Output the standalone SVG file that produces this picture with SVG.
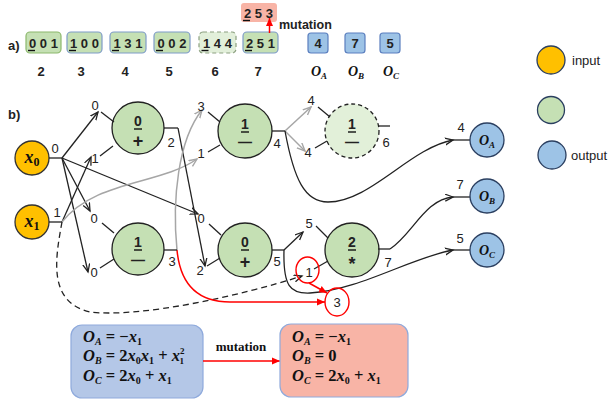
<svg xmlns="http://www.w3.org/2000/svg" width="611" height="404" viewBox="0 0 611 404">
<style>
.lbl{font-family:"Liberation Sans",Arial,sans-serif;font-size:13px;fill:#222;text-anchor:middle}
.b{font-weight:bold}
.dg{font-size:14px}
.op{font-size:18px}
.ds{font-size:14px}
.nd{fill:#c5e0b4;stroke:#222;stroke-width:1.3}
.st{stroke:#222;stroke-width:1.3;fill:none}
.c{fill:none;stroke:#222;stroke-width:1.3}
.g{fill:none;stroke:#a6a6a6;stroke-width:1.5}
.r{fill:none;stroke:#ff0000;stroke-width:1.5}
.m{font-family:"Liberation Serif","DejaVu Serif",serif;font-weight:bold;fill:#111}
.e{font-family:"Liberation Serif","DejaVu Serif",serif;font-weight:bold;fill:#111;font-size:16.5px}
.i{font-style:italic}
.bx{fill:#c5e0b4;stroke:#7f9cc8;stroke-width:1.2}
.ob{fill:#9dc3e6;stroke:#5b7fbf;stroke-width:1.2}
.on{fill:#9dc3e6;stroke:#2b3f60;stroke-width:1.3}
.ul{stroke:#111;stroke-width:1.4}
</style>
<defs>
<marker id="ak" markerWidth="10" markerHeight="10" refX="8" refY="4" orient="auto" markerUnits="userSpaceOnUse"><path d="M0,0.5 L8,4 L0,7.5" fill="none" stroke="#222" stroke-width="1.3"/></marker>
<marker id="ag" markerWidth="10" markerHeight="10" refX="8" refY="4" orient="auto" markerUnits="userSpaceOnUse"><path d="M0,0.5 L8,4 L0,7.5" fill="none" stroke="#a6a6a6" stroke-width="1.4"/></marker>
<marker id="ar" markerWidth="10" markerHeight="10" refX="8" refY="4" orient="auto" markerUnits="userSpaceOnUse"><path d="M0,0.5 L8,4 L0,7.5 z" fill="#ff0000"/></marker>
</defs>
<rect width="611" height="404" fill="#fff"/>

<!-- part a -->
<g id="part-a">
<text x="8" y="50" class="lbl b" style="text-anchor:start">a)</text>
<g id="gene2"><rect x="26" y="32" width="35" height="21" rx="4" class="bx" style="stroke:#8cb86c"/><text x="43.5" y="47.5" class="lbl b">0 0 1</text><line x1="28" y1="50.5" x2="35" y2="50.5" class="ul"/><text x="41" y="76" class="lbl b">2</text></g>
<g id="gene3"><rect x="67" y="32" width="35" height="21" rx="4" class="bx"/><text x="84.5" y="47.5" class="lbl b">1 0 0</text><line x1="69" y1="50.5" x2="76" y2="50.5" class="ul"/><text x="81" y="76" class="lbl b">3</text></g>
<g id="gene4"><rect x="110" y="32" width="36" height="21" rx="4" class="bx"/><text x="128" y="47.5" class="lbl b">1 3 1</text><line x1="112" y1="50.5" x2="119" y2="50.5" class="ul"/><text x="125" y="76" class="lbl b">4</text></g>
<g id="gene5"><rect x="154" y="32" width="36" height="21" rx="4" class="bx"/><text x="172" y="47.5" class="lbl b">0 0 2</text><line x1="156" y1="50.5" x2="163" y2="50.5" class="ul"/><text x="169" y="76" class="lbl b">5</text></g>
<g id="gene6"><rect x="199" y="32" width="37" height="21" rx="4" style="fill:#e2efda;stroke:#8ca080;stroke-width:1.2;stroke-dasharray:4,3"/><text x="217.5" y="47.5" class="lbl b">1 4 4</text><line x1="201.5" y1="50.5" x2="208.5" y2="50.5" class="ul"/><text x="215" y="76" class="lbl b">6</text></g>
<g id="gene7"><rect x="243" y="32" width="35" height="21" rx="4" class="bx"/><text x="260.5" y="47.5" class="lbl b">2 5 1</text><line x1="245" y1="50.5" x2="252" y2="50.5" class="ul"/><text x="258" y="76" class="lbl b">7</text></g>
<g id="gene7-mut"><rect x="241" y="3" width="36" height="19" rx="3" fill="#f8b4a6"/><text x="258.5" y="18" class="lbl b">2 5 3</text><line x1="243" y1="20.5" x2="250" y2="20.5" class="ul"/></g>
<line x1="269.5" y1="33" x2="269.5" y2="18" class="r" marker-end="url(#ar)"/>
<text x="279" y="29" class="lbl b" style="text-anchor:start;font-size:12.5px">mutation</text>
<g id="outA"><rect x="308" y="33" width="20" height="20" rx="3" class="ob"/><text x="318" y="48" class="lbl b">4</text><text x="319" y="76" class="m i" text-anchor="middle" font-size="14">O<tspan font-size="9" dy="3">A</tspan></text></g>
<g id="outB"><rect x="345" y="33" width="20" height="20" rx="3" class="ob"/><text x="355" y="48" class="lbl b">7</text><text x="356" y="76" class="m i" text-anchor="middle" font-size="14">O<tspan font-size="9" dy="3">B</tspan></text></g>
<g id="outC"><rect x="380" y="33" width="20" height="20" rx="3" class="ob"/><text x="390" y="48" class="lbl b">5</text><text x="391" y="76" class="m i" text-anchor="middle" font-size="14">O<tspan font-size="9" dy="3">C</tspan></text></g>
</g>

<!-- legend -->
<g id="legend">
<circle cx="551" cy="60" r="14" fill="#ffc000" stroke="#2b3f60" stroke-width="1.3"/>
<text x="572" y="65" class="lbl" style="text-anchor:start">input</text>
<circle cx="551" cy="110" r="13.5" fill="#c5e0b4" stroke="#2b3f60" stroke-width="1.3"/>
<circle cx="552" cy="155" r="14" class="on"/>
<text x="571" y="160" class="lbl" style="text-anchor:start">output</text>
</g>

<text x="8" y="119" class="lbl b" style="text-anchor:start">b)</text>

<!-- connectors -->
<g id="connectors">
<path d="M62,158 L98,112" class="c" marker-end="url(#ak)"/>
<path d="M62,158 L90,211" class="c" marker-end="url(#ak)"/>
<path d="M62,158 L88,272" class="c" marker-end="url(#ak)"/>
<path d="M62,158 L198,214" class="c" marker-end="url(#ak)"/>
<path d="M62,222 L91,157" class="c" marker-end="url(#ak)"/>
<path d="M62,222 C95,180 160,185 197,159" class="g" marker-end="url(#ag)"/>
<path d="M62,222 C55,260 48,302 90,312 C140,318 240,296 302,276" class="c" stroke-dasharray="6,4" marker-end="url(#ak)"/>
<path d="M178,128 L205,266" class="c" marker-end="url(#ak)"/>
<path d="M177,250 C172,200 178,140 202,110" class="g" marker-end="url(#ag)"/>
<path d="M177,250 C180,282 196,302 230,302 L325,302" class="r" marker-end="url(#ar)"/>
<path d="M285,131 L311,107" class="g" marker-end="url(#ag)"/>
<path d="M285,131 L305,151" class="g" marker-end="url(#ag)"/>
<path d="M285,131 C294,180 305,202 328,202 C370,202 410,148 453,140" class="c" marker-end="url(#ak)"/>
<path d="M284,250 L303,232" class="c" marker-end="url(#ak)"/>
<path d="M284,250 C283,286 290,294 310,293 C360,290 410,258 453,250" class="c" marker-end="url(#ak)"/>
<path d="M390,249 C412,235 425,199 453,197" class="c" marker-end="url(#ak)"/>
<path d="M309,283 L327,293" class="r" marker-end="url(#ar)"/>
</g>

<!-- nodes -->
<g id="x0"><circle cx="32" cy="158" r="17" fill="#ffc000" stroke="#333" stroke-width="1.3"/><text x="32" y="163" class="m i" text-anchor="middle" font-size="18">x<tspan font-size="12" dy="3" font-style="normal">0</tspan></text><line x1="49" y1="158" x2="62" y2="158" class="st"/><text x="55" y="153" class="lbl">0</text></g>
<g id="x1"><circle cx="32" cy="222" r="17" fill="#ffc000" stroke="#333" stroke-width="1.3"/><text x="32" y="227" class="m i" text-anchor="middle" font-size="18">x<tspan font-size="12" dy="3" font-style="normal">1</tspan></text><line x1="49" y1="222" x2="62" y2="222" class="st"/><text x="57" y="217" class="lbl">1</text></g>

<g id="node2"><circle cx="138" cy="128" r="26" class="nd"/><text x="138" y="126" class="lbl b dg">0</text><line x1="134" y1="129" x2="142" y2="129" class="ul"/><text x="138" y="147" class="lbl b op">+</text>
<text x="95" y="110" class="lbl">0</text><line x1="101" y1="112" x2="114" y2="122" class="st"/>
<text x="95" y="163" class="lbl">1</text><line x1="100" y1="156" x2="113" y2="146" class="st"/>
<line x1="164" y1="128" x2="178" y2="128" class="st"/><text x="171" y="147" class="lbl">2</text></g>

<g id="node3"><circle cx="138" cy="249" r="26" class="nd"/><text x="138" y="247" class="lbl b dg">1</text><line x1="134" y1="250" x2="142" y2="250" class="ul"/><text x="138" y="265" class="lbl b ds">—</text>
<text x="94" y="223" class="lbl">0</text><line x1="102" y1="223" x2="114" y2="233" class="st"/>
<text x="94" y="277" class="lbl">0</text><line x1="100" y1="268" x2="114" y2="259" class="st"/>
<line x1="164" y1="250" x2="177" y2="250" class="st"/><text x="172" y="266" class="lbl">3</text></g>

<g id="node4"><circle cx="245" cy="131" r="27" class="nd"/><text x="245" y="129" class="lbl b dg">1</text><line x1="241" y1="132" x2="249" y2="132" class="ul"/><text x="245" y="147" class="lbl b ds">—</text>
<text x="201" y="111" class="lbl">3</text><line x1="208" y1="112" x2="220" y2="122" class="st"/>
<text x="201" y="158" class="lbl">1</text><line x1="208" y1="152" x2="220" y2="145" class="st"/>
<line x1="272" y1="131" x2="285" y2="131" class="st"/><text x="277" y="148" class="lbl">4</text></g>

<g id="node5"><circle cx="245" cy="250" r="27" class="nd"/><text x="245" y="247" class="lbl b dg">0</text><line x1="241" y1="250" x2="249" y2="250" class="ul"/><text x="245" y="268" class="lbl b op">+</text>
<text x="201" y="223" class="lbl">0</text><line x1="209" y1="224" x2="221" y2="235" class="st"/>
<text x="200" y="275" class="lbl">2</text><line x1="207" y1="266" x2="220" y2="258" class="st"/>
<line x1="272" y1="250" x2="284" y2="250" class="st"/><text x="277" y="266" class="lbl">5</text></g>

<g id="node6"><circle cx="352" cy="131" r="27" fill="#e2f0d9" stroke="#222" stroke-width="1.3" stroke-dasharray="4,3"/><text x="352" y="129" class="lbl b dg">1</text><line x1="348" y1="132" x2="356" y2="132" class="ul"/><text x="352" y="147" class="lbl b ds">—</text>
<text x="311" y="105" class="lbl">4</text><line x1="318" y1="107" x2="330" y2="117" class="st"/>
<text x="308" y="157" class="lbl">4</text><line x1="315" y1="148" x2="327" y2="141" class="st"/>
<line x1="378" y1="126" x2="390" y2="126" class="st"/><text x="386" y="147" class="lbl">6</text></g>

<g id="node7"><circle cx="352" cy="250" r="27" class="nd"/><text x="352" y="247" class="lbl b dg">2</text><line x1="348" y1="250" x2="356" y2="250" class="ul"/><text x="352" y="270" class="lbl b op">*</text>
<text x="309" y="228" class="lbl">5</text><line x1="316" y1="226" x2="328" y2="238" class="st"/>
<text x="309" y="277" class="lbl">1</text><line x1="314" y1="269" x2="328" y2="261" class="st"/>
<line x1="378" y1="249" x2="390" y2="249" class="st"/><text x="388" y="267" class="lbl">7</text></g>

<g id="mut-marks">
<ellipse cx="307.5" cy="270" rx="11.5" ry="13" fill="none" stroke="#ff0000" stroke-width="1.4"/>
<ellipse cx="337" cy="302" rx="12" ry="14" fill="none" stroke="#ff0000" stroke-width="1.4"/>
<text x="337" y="307" class="lbl">3</text>
</g>

<g id="OA"><line x1="453" y1="140" x2="470" y2="140" class="st"/><circle cx="487" cy="140" r="17" class="on"/><text x="487" y="145" class="m i" text-anchor="middle" font-size="14">O<tspan font-size="9" dy="3">A</tspan></text><text x="461" y="132" class="lbl">4</text></g>
<g id="OB"><line x1="453" y1="197" x2="470" y2="197" class="st"/><circle cx="487" cy="196" r="17" class="on"/><text x="487" y="201" class="m i" text-anchor="middle" font-size="14">O<tspan font-size="9" dy="3">B</tspan></text><text x="460" y="189" class="lbl">7</text></g>
<g id="OC"><line x1="453" y1="250" x2="470" y2="250" class="st"/><circle cx="487" cy="250" r="17" class="on"/><text x="487" y="255" class="m i" text-anchor="middle" font-size="14">O<tspan font-size="9" dy="3">C</tspan></text><text x="460" y="243" class="lbl">5</text></g>

<!-- equations -->
<g id="eq-before">
<rect x="71" y="325" width="132" height="73" rx="11" fill="#b4c7e7" stroke="#8faadc" stroke-width="1.2"/>
<text x="83" y="342" class="e"><tspan class="i">O</tspan><tspan font-size="10" dy="2.5" class="i">A</tspan><tspan dy="-2.5"> = −</tspan><tspan class="i">x</tspan><tspan font-size="10" dy="2.5">1</tspan></text>
<text x="83" y="361" class="e"><tspan class="i">O</tspan><tspan font-size="10" dy="2.5" class="i">B</tspan><tspan dy="-2.5"> = 2</tspan><tspan class="i">x</tspan><tspan font-size="10" dy="2.5">0</tspan><tspan class="i" dy="-2.5">x</tspan><tspan font-size="10" dy="2.5">1</tspan><tspan dy="-2.5"> + </tspan><tspan class="i">x</tspan><tspan font-size="9" dy="-7">2</tspan><tspan font-size="9" dx="-5" dy="9.5">1</tspan></text>
<text x="83" y="381" class="e"><tspan class="i">O</tspan><tspan font-size="10" dy="3" class="i">C</tspan><tspan dy="-3"> = 2</tspan><tspan class="i">x</tspan><tspan font-size="10" dy="3">0</tspan><tspan dy="-3"> + </tspan><tspan class="i">x</tspan><tspan font-size="10" dy="3">1</tspan></text>
</g>
<line x1="203" y1="361" x2="280" y2="361" class="r" stroke-width="1.8" marker-end="url(#ar)"/>
<text x="241" y="351" class="m" font-size="13" text-anchor="middle">mutation</text>
<g id="eq-after">
<rect x="280" y="324" width="128" height="73" rx="11" fill="#f8b4a6" stroke="#8faadc" stroke-width="1.2"/>
<text x="292" y="342" class="e"><tspan class="i">O</tspan><tspan font-size="10" dy="2.5" class="i">A</tspan><tspan dy="-2.5"> = −</tspan><tspan class="i">x</tspan><tspan font-size="10" dy="2.5">1</tspan></text>
<text x="292" y="361" class="e"><tspan class="i">O</tspan><tspan font-size="10" dy="2.5" class="i">B</tspan><tspan dy="-2.5"> = 0</tspan></text>
<text x="292" y="381" class="e"><tspan class="i">O</tspan><tspan font-size="10" dy="3" class="i">C</tspan><tspan dy="-3"> = 2</tspan><tspan class="i">x</tspan><tspan font-size="10" dy="3">0</tspan><tspan dy="-3"> + </tspan><tspan class="i">x</tspan><tspan font-size="10" dy="3">1</tspan></text>
</g>
</svg>
